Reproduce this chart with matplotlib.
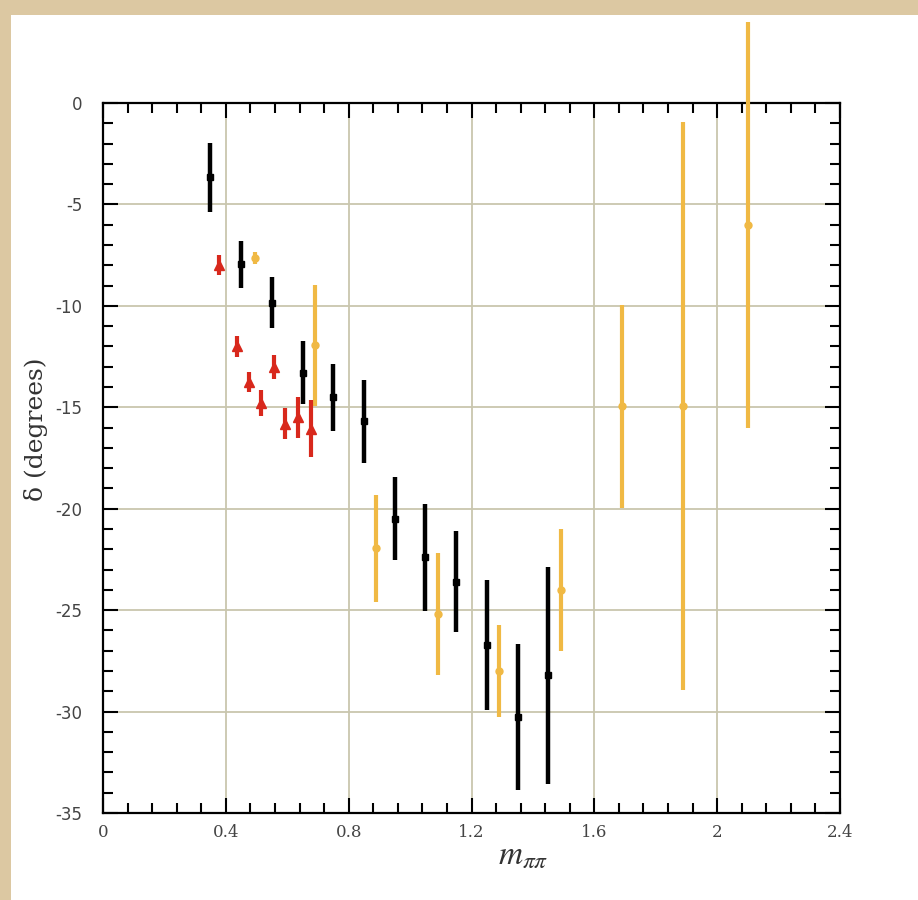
import matplotlib
matplotlib.use("Agg")
import matplotlib.pyplot as plt
from matplotlib.patches import Rectangle
from matplotlib.ticker import MultipleLocator

plt.rcParams["mathtext.fontset"] = "stix"

# Black data
black_x = [0.35, 0.45, 0.55, 0.65, 0.75, 0.85, 0.95, 1.05, 1.15, 1.25, 1.35, 1.45]
black_y = [-3.65, -7.95, -9.85, -13.3, -14.5, -15.7, -20.5, -22.4, -23.6, -26.7, -30.25, -28.2]
black_err = [1.7, 1.15, 1.25, 1.55, 1.65, 2.05, 2.05, 2.65, 2.5, 3.2, 3.6, 5.35]

# Orange data
orange_x = [0.495, 0.69, 0.89, 1.09, 1.29, 1.49, 1.69, 1.89, 2.10]
orange_y = [-7.65, -11.95, -21.95, -25.2, -28.0, -24.0, -14.95, -14.95, -6.0]
orange_err = [0.3, 3.0, 2.65, 3.0, 2.25, 3.0, 5.0, 14.0, 10.0]

# Red data
red_x = [0.377, 0.437, 0.474, 0.515, 0.557, 0.593, 0.635, 0.678]
red_y = [-8.0, -12.0, -13.75, -14.8, -13.0, -15.8, -15.5, -16.05]
red_err = [0.5, 0.5, 0.5, 0.65, 0.6, 0.75, 1.0, 1.4]

xticks = [0, 0.4, 0.8, 1.2, 1.6, 2.0, 2.4]
xticklabels = ["0", "0.4", "0.8", "1.2", "1.6", "2", "2.4"]
yticks = [0, -5, -10, -15, -20, -25, -30, -35]
yticklabels = ["0", "-5", "-10", "-15", "-20", "-25", "-30", "-35"]

fig = plt.figure(figsize=(9.18, 9.0), dpi=100)
fig.patch.set_facecolor("#dcc8a2")
fig.patches.append(Rectangle((11 / 918, 0), 1 - 11 / 918, 1 - 15 / 900,
                             transform=fig.transFigure, facecolor="white",
                             edgecolor="none", zorder=-10))

ax = fig.add_axes([103 / 918, 1 - 813 / 900, (840 - 103) / 918, (813 - 103) / 900])
ax.set_zorder(5)
ax.set_facecolor("white")
ax.set_xlim(0, 2.4)
ax.set_ylim(-35, 0)

ax.grid(True, which="major", color="#c9c6ae", linewidth=1.3, zorder=0)
ax.set_axisbelow(True)

ax.errorbar(orange_x, orange_y, yerr=orange_err, fmt="o", color="#f0b944",
            ecolor="#f0b944", elinewidth=3, markersize=5, capsize=0,
            zorder=3, clip_on=False)
ax.errorbar(red_x, red_y, yerr=red_err, fmt="^", color="#d8281c",
            ecolor="#d8281c", elinewidth=3, markersize=7, capsize=0, zorder=4)
ax.errorbar(black_x, black_y, yerr=black_err, fmt="s", color="black",
            ecolor="black", elinewidth=3.2, markersize=5, capsize=0, zorder=5)

ax.set_xticks(xticks)
ax.set_xticklabels(xticklabels, family="DejaVu Serif", fontsize=12, color="#444444")
ax.set_yticks(yticks)
ax.set_yticklabels(yticklabels, family="DejaVu Sans", fontsize=12, color="#444444")
ax.xaxis.set_minor_locator(MultipleLocator(0.08))
ax.yaxis.set_minor_locator(MultipleLocator(1))

ax.tick_params(which="both", direction="in", top=True, right=True, width=1.5, color="black")
ax.tick_params(which="major", length=11)
ax.tick_params(which="minor", length=7)
ax.tick_params(axis="x", which="major", pad=8)
ax.tick_params(axis="y", which="major", pad=15)

for s in ax.spines.values():
    s.set_linewidth(1.6)
    s.set_color("black")

ax.set_xlabel(r"$m_{\pi\pi}$", fontsize=24, color="#333333")
ax.xaxis.set_label_coords(0.57, -0.035)
ax.set_ylabel("δ (degrees)", fontsize=18, color="#333333", family="DejaVu Serif")
ax.yaxis.set_label_coords(-0.075, 0.54)

fig.savefig("out.png", dpi=100, facecolor=fig.get_facecolor())
